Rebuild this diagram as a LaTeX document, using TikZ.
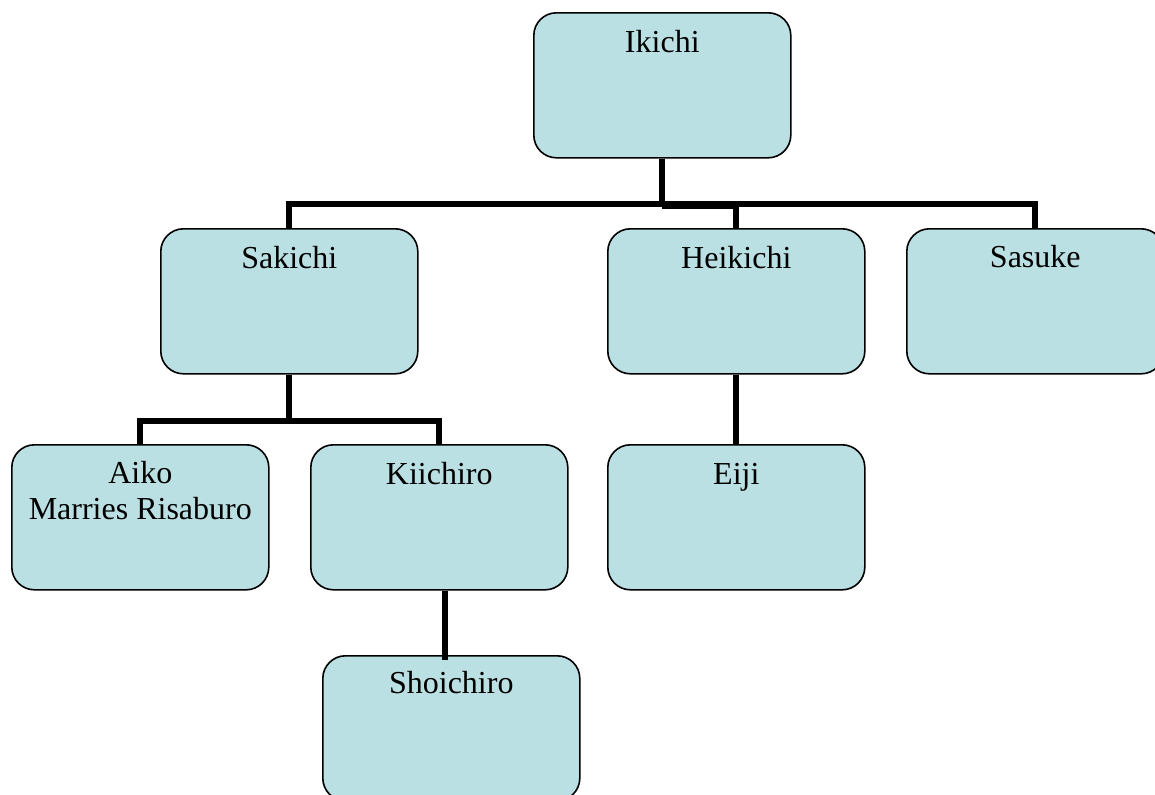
\documentclass[tikz,border=0pt]{standalone}
\usepackage{fontspec}
\setmainfont{Liberation Serif}
\definecolor{boxfill}{HTML}{BBE0E3}
\begin{document}
\begin{tikzpicture}[x=0.75pt,y=-0.75pt,
  person/.style={draw=black, line width=1.2pt, fill=boxfill, rounded corners=17pt,
    minimum width=192.75pt, minimum height=108.75pt, inner sep=0pt, anchor=north west},
  lbl/.style={anchor=base, font=\fontsize{24}{27.6}\selectfont, inner sep=0pt},
  link/.style={line width=4.7pt, line cap=butt, line join=miter}]
\clip (0,0) rectangle (1155,794);
% boxes
\node[person] (iki)  at (533,12)  {};
\node[person] (sak)  at (160,228) {};
\node[person] (hei)  at (607,228) {};
\node[person] (sas)  at (906,228) {};
\node[person] (aiko) at (11,444)  {};
\node[person] (kii)  at (310,444) {};
\node[person] (eiji) at (607,444) {};
\node[person] (sho)  at (322,655) {};
% texts
\node[lbl] (ikit)  at ([yshift=-30pt]iki.north)  {Ikichi};
\node[lbl] (sakt)  at ([yshift=-30pt]sak.north)  {Sakichi};
\node[lbl] (heit)  at ([yshift=-30pt]hei.north)  {Heikichi};
\node[lbl] (sast)  at ([yshift=-29.5pt]sas.north)  {Sasuke};
\node[lbl] (aikot) at ([yshift=-29.5pt]aiko.north) {Aiko};
\node[lbl] (aikot2) at ([yshift=-56.5pt]aiko.north) {Marries Risaburo};
\node[lbl] (kiit)  at ([yshift=-30pt]kii.north)  {Kiichiro};
\node[lbl] (eijit) at ([yshift=-30pt]eiji.north) {Eiji};
\node[lbl] (shot)  at ([yshift=-29pt]sho.north)  {Shoichiro};
% connectors
\coordinate (bar)  at (661,204);
\coordinate (bar2) at (661,206);
\coordinate (bar3) at (288,421);
\coordinate (k2)   at (445,660);
\draw[link] (iki.south) -- (iki.south |- bar2);
\draw[link] (sak.north) -- (sak.north |- bar) -- (sas.north |- bar) -- (sas.north);
\draw[link] (iki.south |- bar2) -| (hei.north);
\draw[link] (sak.south) -- (sak.south |- bar3);
\draw[link] (aiko.north) -- (aiko.north |- bar3) -- (kii.north |- bar3) -- (kii.north);
\draw[link] (hei.south) -- (eiji.north);
\draw[link] (k2 |- kii.south) -- (k2);
\end{tikzpicture}
\end{document}
